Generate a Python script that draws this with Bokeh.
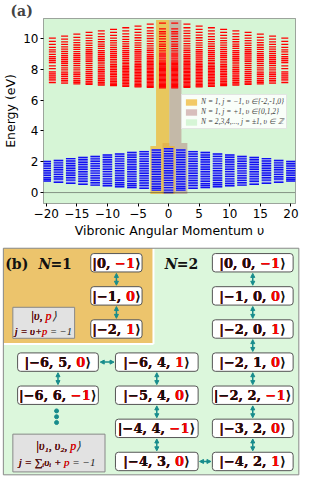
from bokeh.plotting import figure
from bokeh.models import (Range1d, FixedTicker, Span, Legend, LegendItem,
                          Arrow, NormalHead, ColumnDataSource)
from bokeh.core.properties import value
from bokeh.embed import file_html
from bokeh.resources import INLINE

# ---------------- data : panel (a) ----------------
red_v_pos = [1, 3, 5, 7, 9, 11, 13, 15, 17, 19]
red_levels_pos = [
    [11.0,10.63,10.44,10.3,10.14,9.98,9.8,9.64,9.5,9.35,9.2,9.05,8.93,8.81,8.68,8.55,8.47,8.39,8.31,8.23,8.15,8.07,7.99,7.91,7.83,7.75,7.67,7.59,7.51,7.43,7.35,7.27,7.19,7.11,7.03,6.95,6.87,6.8],
    [10.93,10.7,10.5,10.33,10.17,10.0,9.83,9.67,9.52,9.38,9.24,9.1,8.96,8.84,8.72,8.6,8.5,8.41,8.32,8.23,8.14,8.05,7.96,7.87,7.78,7.69,7.6,7.51,7.42,7.33,7.24,7.15,7.06,6.97,6.9,6.83],
    [10.8,10.6,10.4,10.22,10.05,9.88,9.72,9.57,9.42,9.28,9.14,9.0,8.87,8.74,8.62,8.5,8.4,8.3,8.2,8.1,8.0,7.9,7.8,7.7,7.6,7.5,7.4,7.3,7.2,7.1,7.0,6.93,6.86],
    [10.7,10.5,10.3,10.12,9.95,9.8,9.65,9.5,9.36,9.22,9.08,8.95,8.82,8.7,8.58,8.47,8.37,8.27,8.17,8.07,7.97,7.87,7.77,7.67,7.57,7.47,7.37,7.27,7.17,7.07,6.98,6.9],
    [10.6,10.4,10.2,10.03,9.87,9.72,9.57,9.43,9.29,9.15,9.02,8.89,8.77,8.65,8.53,8.42,8.31,8.2,8.09,7.98,7.87,7.76,7.65,7.54,7.43,7.32,7.21,7.1,7.02,6.94],
    [10.5,10.3,10.12,9.95,9.79,9.64,9.5,9.36,9.22,9.09,8.96,8.83,8.71,8.59,8.47,8.35,8.23,8.11,7.99,7.87,7.75,7.63,7.51,7.39,7.27,7.15,7.06,6.98],
    [10.4,10.2,10.02,9.86,9.7,9.55,9.41,9.27,9.14,9.01,8.88,8.75,8.62,8.5,8.37,8.24,8.11,7.98,7.85,7.72,7.59,7.46,7.33,7.2,7.1,7.02],
    [10.28,10.08,9.9,9.74,9.58,9.43,9.29,9.15,9.02,8.89,8.76,8.63,8.5,8.37,8.24,8.1,7.96,7.82,7.68,7.54,7.4,7.27,7.16,7.06],
    [10.16,9.96,9.78,9.62,9.46,9.31,9.17,9.03,8.9,8.77,8.64,8.51,8.38,8.24,8.1,7.96,7.82,7.68,7.54,7.4,7.26,7.1],
    [10.02,9.82,9.62,9.42,9.26,9.13,8.97,8.83,8.69,8.57,8.43,8.23,8.04,7.84,7.7,7.58,7.44,7.31,7.14],
]
red_band1_top = [8.5, 8.4, 8.3, 8.2, 8.1, 8.0, 7.9, 7.85, 7.85, 7.85]
red_band2_lo = [8.6, 8.6, 8.6, 8.7, 8.7, 8.6, 8.5, 8.5, 8.4, 8.4]
red_band2_hi = [9.1, 9.2, 9.3, 9.3, 9.3, 9.2, 9.1, 9.0, 8.9, 8.8]

blue_v_pos = [0, 2, 4, 6, 8, 10, 12, 14, 16, 18, 20]
blue_levels_pos = [
    [2.84,2.68,2.52,2.37,2.21,2.05,1.89,1.74,1.58,1.42,1.27,1.11,0.95,0.79,0.64,0.48,0.32,0.16,0.0],
    [2.76,2.6,2.44,2.29,2.13,1.97,1.82,1.66,1.5,1.35,1.19,1.03,0.88,0.72,0.56,0.4,0.28,0.16],
    [2.66,2.5,2.35,2.19,2.03,1.88,1.72,1.56,1.41,1.25,1.09,0.94,0.78,0.62,0.46,0.28],
    [2.6,2.44,2.29,2.13,1.98,1.82,1.66,1.51,1.35,1.2,1.04,0.89,0.73,0.57,0.45,0.33],
    [2.5,2.35,2.19,2.04,1.88,1.73,1.57,1.42,1.26,1.11,0.95,0.8,0.64,0.51,0.38],
    [2.44,2.29,2.13,1.98,1.82,1.67,1.51,1.36,1.2,1.05,0.89,0.74,0.59,0.44],
    [2.34,2.19,2.03,1.88,1.72,1.57,1.41,1.26,1.1,0.95,0.79,0.64,0.48],
    [2.28,2.13,1.97,1.82,1.66,1.51,1.35,1.2,1.04,0.89,0.73,0.54],
    [2.2,2.05,1.89,1.74,1.58,1.43,1.27,1.12,0.96,0.81,0.6],
    [2.08,1.93,1.78,1.63,1.48,1.33,1.18,1.03,0.88,0.67],
    [2.02,1.87,1.72,1.57,1.42,1.27,1.12,0.97,0.86,0.75],
]

# highlighted regions (v range, energy range)
orange_left = [-2.05, -2.98]; orange_right = [0.1, 1.0]
orange_bottom = [3.02, -0.1]; orange_top = [11.2, 3.02]
brown_left = [0.1, -0.99]; brown_right = [2.1, 3.07]
brown_bottom = [3.21, -0.1]; brown_top = [11.2, 3.21]

legend_labels = ["N = 1, j = \u22121, \u03c5 \u2208{-2,-1,0}",
                 "N = 1, j = +1, \u03c5 \u2208{0,1,2}",
                 "N = 2,3,4,..., j = \u00b11, \u03c5 \u2208 \u2124"]
x_ticks = [-20, -15, -10, -5, 0, 5, 10, 15, 20]
y_ticks = [0, 2, 4, 6, 8, 10]

# ---------------- data : panel (b) ----------------
n1_kets = [["0", "\u22121"], ["\u22121", "0"], ["\u22122", "1"]]
right_kets = [["0", "0", "\u22121"], ["\u22121", "0", "0"], ["\u22122", "0", "1"],
              ["\u22122", "1", "0"], ["\u22122", "2", "\u22121"], ["\u22123", "2", "0"],
              ["\u22124", "2", "1"]]
mid_kets = [["\u22126", "4", "1"], ["\u22125", "4", "0"], ["\u22124", "4", "\u22121"],
            ["\u22124", "3", "0"]]
left_kets = [["\u22126", "5", "0"], ["\u22126", "6", "\u22121"]]

# ================= panel (a) =================
XR = (-20.45, 20.75)
YR = (-0.71, 11.3)
p = figure(width=301, height=240, x_range=Range1d(*XR), y_range=Range1d(*YR),
           output_backend="svg", toolbar_location=None,
           min_border_left=32, min_border_right=6, min_border_top=0, min_border_bottom=35,
           background_fill_color="#dcf7dc", outline_line_color="#888888")
p.grid.visible = False
p.title.text = "(a)"
p.title.text_font = "DejaVu Serif"
p.title.text_font_style = "bold"
p.title.text_font_size = "14px"
p.title.align = "left"
p.title.offset = -33
p.title.standoff = 0

r_gr = p.quad(left=[XR[0]], right=[XR[1]], bottom=[YR[0]], top=[YR[1]],
              fill_color="#d6f5d6", line_color=None)
r_br = p.quad(left=brown_left, right=brown_right, bottom=brown_bottom, top=brown_top,
              fill_color="#b07070", fill_alpha=0.45, line_color=None)
r_or = p.quad(left=orange_left, right=orange_right, bottom=orange_bottom, top=orange_top,
              fill_color="#f0b429", fill_alpha=0.7, line_color=None)

red_v = [-v for v in reversed(red_v_pos)] + red_v_pos
red_levels = list(reversed(red_levels_pos)) + red_levels_pos
rb1 = list(reversed(red_band1_top)) + red_band1_top
rb2l = list(reversed(red_band2_lo)) + red_band2_lo
rb2h = list(reversed(red_band2_hi)) + red_band2_hi
blue_v = [-v for v in reversed(blue_v_pos[1:])] + blue_v_pos
blue_levels = list(reversed(blue_levels_pos[1:])) + blue_levels_pos

RW = 0.57
BW = 0.78
bl, br_, bb, bt = [], [], [], []
for v, lv, h1, l2, h2 in zip(red_v, red_levels, rb1, rb2l, rb2h):
    bl += [v - RW, v - RW]; br_ += [v + RW, v + RW]
    bb += [min(lv), l2]; bt += [h1, h2]
p.quad(left=bl, right=br_, bottom=bb, top=bt, fill_color="#f49a9a", fill_alpha=0.85, line_color=None)
x0, x1, yy = [], [], []
for v, lv in zip(red_v, red_levels):
    for e in lv:
        x0.append(v - RW); x1.append(v + RW); yy.append(e)
p.segment(x0=x0, y0=yy, x1=x1, y1=yy, line_color="#ff0000", line_width=1.3)

p.quad(left=[v - BW for v in blue_v], right=[v + BW for v in blue_v],
       bottom=[min(l) - 0.05 for l in blue_levels], top=[max(l) + 0.05 for l in blue_levels],
       fill_color="#aab0f4", fill_alpha=0.85, line_color=None)
x0, x1, yy = [], [], []
for v, lv in zip(blue_v, blue_levels):
    for e in lv:
        x0.append(v - BW); x1.append(v + BW); yy.append(e)
p.segment(x0=x0, y0=yy, x1=x1, y1=yy, line_color="#1010f0", line_width=1.4)

p.add_layout(Span(location=0, dimension="width", line_color="#333333", line_dash="1 1", line_width=1))

p.xaxis.ticker = FixedTicker(ticks=x_ticks)
p.yaxis.ticker = FixedTicker(ticks=y_ticks)
p.xaxis.major_label_overrides = {t: str(t).replace("-", "\u2212") for t in x_ticks}
p.xaxis.axis_label = "Vibronic Angular Momentum \u03c5"
p.yaxis.axis_label = "Energy (eV)"
for ax in (p.xaxis, p.yaxis):
    ax.major_label_text_font = "DejaVu Sans"
    ax.major_label_text_font_size = "12px"
    ax.major_label_text_color = "black"
    ax.axis_label_text_font = "DejaVu Sans"
    ax.axis_label_text_font_size = "12.5px"
    ax.axis_label_text_font_style = "normal"
    ax.axis_label_text_color = "black"
    ax.minor_tick_line_color = None
    ax.major_tick_out = 3
    ax.major_tick_in = 0
    ax.axis_line_color = None
    ax.major_label_standoff = 2
    ax.axis_label_standoff = 2

legend = Legend(items=[LegendItem(label=legend_labels[0], renderers=[r_or]),
                       LegendItem(label=legend_labels[1], renderers=[r_br]),
                       LegendItem(label=legend_labels[2], renderers=[r_gr])],
                location=(138, 74), label_text_font="Liberation Serif",
                label_text_font_style="italic", label_text_font_size="7.5px",
                label_height=9, glyph_height=8, glyph_width=14, spacing=1, padding=2,
                label_standoff=3, margin=0, background_fill_alpha=0.85,
                border_line_color="#cccccc")
p.add_layout(legend)

# ================= panel (b) =================
SX = 301 / 316.8
p2 = figure(width=301, height=238, x_range=Range1d(0, 316.8), y_range=Range1d(493.8, 248),
            output_backend="svg", toolbar_location=None, min_border=0,
            min_border_left=0, min_border_right=0, min_border_top=0, min_border_bottom=0,
            x_axis_location=None, y_axis_location=None, outline_line_color=None)
p2.grid.visible = False

GREEN = "#dcf7dc"; ORANGE = "#ecc46c"; TEAL = "#178c8c"; RED = "#ff0000"
p2.quad(left=[3], right=[314], top=[256], bottom=[490], fill_color=GREEN, line_color=None)
p2.quad(left=[3], right=[161], top=[256], bottom=[355], fill_color=ORANGE, line_color=None)
p2.segment(x0=[161, 3], y0=[256, 355], x1=[161, 161], y1=[355, 355], line_color="white", line_width=2)
p2.quad(left=[3], right=[314], top=[256], bottom=[490], fill_color=None, line_color="#888888", line_width=1)

def row_y(k):
    return 271 + 34.2 * k

EMB = {'|': 0.37, '\u2212': 0.84, ',': 0.38, ' ': 0.35, '\u27e9': 0.39}
def est_w(s, fs, table, default):
    return fs * sum(table.get(c, default) for c in s) / SX

box_l, box_r, box_t, box_b = [], [], [], []
t_full, t_pre_red, t_pre, t_x, t_y = [], [], [], [], []
def add_col(kets, cx, w, rows):
    for kk, r in zip(kets, rows):
        y = row_y(r)
        box_l.append(cx - w / 2); box_r.append(cx + w / 2)
        box_t.append(y - 9.5); box_b.append(y + 9.5)
        pre = "|" + ", ".join(kk[:-1]) + ", "
        full = pre + kk[-1] + "\u27e9"
        t_full.append(full); t_pre_red.append(pre + kk[-1]); t_pre.append(pre)
        t_x.append(cx - est_w(full, 13, EMB, 0.70) / 2); t_y.append(y + 0.5)

add_col(n1_kets, 122, 54, [0, 1, 2])
add_col(right_kets, 265.5, 85, [0, 1, 2, 3, 4, 5, 6])
add_col(mid_kets, 164.5, 87, [3, 4, 5, 6])
add_col(left_kets, 60.5, 85, [3, 4])

p2.quad(left=box_l, right=box_r, top=box_t, bottom=box_b, fill_color="white",
        line_color="#555555", line_width=1, border_radius=3)
tk = dict(text_align="left", text_baseline="middle", text_font=value("DejaVu Serif"),
          text_font_style="bold", text_font_size="13px")
p2.text(x=t_x, y=t_y, text=t_full, text_color="#111111", **tk)
p2.text(x=t_x, y=t_y, text=t_pre_red, text_color=RED, **tk)
p2.text(x=t_x, y=t_y, text=t_pre, text_color="#111111", **tk)

ax0, ay0, ax1, ay1 = [], [], [], []
for cx, pairs in ((122, [0, 1]), (265.5, [0, 1, 2, 3, 4, 5]), (164.5, [3, 4, 5]), (60.5, [3])):
    for r in pairs:
        ax0.append(cx); ax1.append(cx)
        ay0.append(row_y(r) + 11); ay1.append(row_y(r + 1) - 11)
for (xa, xb, r) in ((103.5, 121, 3), (208, 223, 6)):
    ax0.append(xa + 1.5); ax1.append(xb - 1.5); ay0.append(row_y(r)); ay1.append(row_y(r))
asrc = ColumnDataSource(dict(x0=ax0, y0=ay0, x1=ax1, y1=ay1))
p2.add_layout(Arrow(start=NormalHead(size=4, fill_color=TEAL, line_color=TEAL, line_width=1),
                    end=NormalHead(size=4, fill_color=TEAL, line_color=TEAL, line_width=1),
                    x_start="x0", y_start="y0", x_end="x1", y_end="y1", source=asrc,
                    line_color=TEAL, line_width=1.5))
p2.scatter(x=[59, 59, 59], y=[424, 430, 436], size=4, color=TEAL)

hk = dict(text_baseline="middle", text_font=value("DejaVu Serif"), text_font_size="14px",
          text_color="#111111", text_align="left")
p2.text(x=[5], y=[272], text=["(b)"], text_font_style="bold", **hk)
p2.text(x=[40, 173], y=[272, 272], text=["N", "N"], text_font_style="bold italic", **hk)
p2.text(x=[52.5, 185.5], y=[272, 272], text=["=1", "=2"], text_font_style="bold", **hk)

p2.quad(left=[13, 13], right=[78, 110], top=[317, 448], bottom=[349, 487],
        fill_color="#e2e2e2", line_color="#888888", line_width=1)
EMI = {'|': 0.28, '\u03c5': 0.5, ',': 0.25, ' ': 0.25, 'p': 0.5, '\u27e9': 0.39, 'j': 0.28,
       '=': 0.68, '+': 0.68, '\u2212': 0.68, '1': 0.5, '\u2211': 0.7, '\u1d62': 0.3,
       '\u2081': 0.35, '\u2082': 0.35}
info = [("|\u03c5, ", "p", "\u27e9", 45.5, 326, 12),
        ("j = \u03c5+", "p", " = \u22121", 45.5, 342, 10.5),
        ("|\u03c5\u2081, \u03c5\u2082, ", "p", "\u27e9", 61.5, 460, 12),
        ("j = \u2211\u1d62\u03c5\u1d62 + ", "p", " = \u22121", 61.5, 477, 11)]
for pre, rd, post, cx, y, fs in info:
    full = pre + rd + post
    xl = cx - est_w(full, fs, EMI, 0.5) / 2
    ik = dict(text_align="left", text_baseline="middle", text_font=value("Liberation Serif"),
              text_font_style="italic", text_font_size=f"{fs}px")
    p2.text(x=[xl], y=[y], text=[full], text_color="#222222", **ik)
    p2.text(x=[xl], y=[y], text=[pre + rd], text_color=RED, **ik)
    p2.text(x=[xl], y=[y], text=[pre], text_color="#222222", **ik)

open("out.html", "w").write(file_html([p, p2], INLINE))
